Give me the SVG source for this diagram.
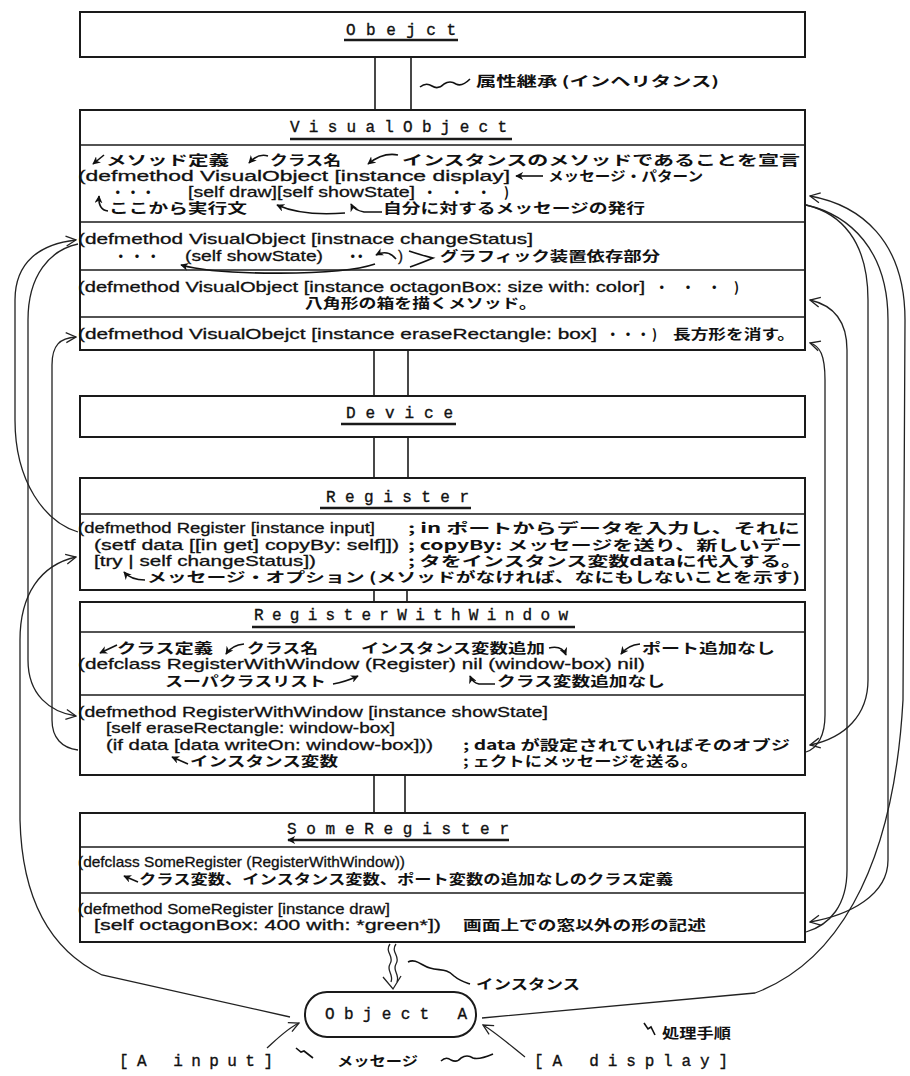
<svg xmlns="http://www.w3.org/2000/svg" width="910" height="1076" viewBox="0 0 910 1076">
<defs>
<style>
.box{fill:#fff;stroke:#1a1a1a;stroke-width:2}
.sep{stroke:#1a1a1a;stroke-width:1.6}
.ul{stroke:#1a1a1a;stroke-width:2.6}
.cn{stroke:#1a1a1a;stroke-width:1.6;fill:none}
.cv{stroke:#222;stroke-width:1.3;fill:none}
.an{stroke:#111;stroke-width:1.6;fill:none}
.code{font-family:"Liberation Sans",Arial,sans-serif;font-size:15px;fill:#111;stroke:#111;stroke-width:0.3}
.jp{font-family:"Noto Sans CJK JP","Noto Sans",sans-serif;font-size:13.5px;font-weight:700;fill:#111}
.ttl{font-family:"Liberation Mono","Courier New",monospace;font-size:16px;fill:#111;stroke:#111;stroke-width:0.35}
</style>
<marker id="ah" viewBox="0 0 12 12" refX="11" refY="6" markerWidth="12" markerHeight="12" orient="auto" markerUnits="userSpaceOnUse"><path d="M1,1 L11,6 L1,11" fill="none" stroke="#222" stroke-width="1.3"/></marker>
<marker id="sa" viewBox="0 0 10 10" refX="9" refY="5" markerWidth="8" markerHeight="8" orient="auto" markerUnits="userSpaceOnUse"><path d="M0,0 L10,5 L0,10 L3,5 z" fill="#111"/></marker>
</defs>
<rect width="910" height="1076" fill="#fff"/>

<g id="connectors">
<line class="cn" x1="375" y1="57" x2="375" y2="110"/><line class="cn" x1="411" y1="57" x2="411" y2="110"/>
<line class="cn" x1="374" y1="350" x2="374" y2="396"/><line class="cn" x1="408" y1="350" x2="408" y2="396"/>
<line class="cn" x1="374" y1="437" x2="374" y2="478"/><line class="cn" x1="408" y1="437" x2="408" y2="478"/>
<line class="cn" x1="374" y1="590" x2="374" y2="602"/><line class="cn" x1="407" y1="590" x2="407" y2="602"/>
<line class="cn" x1="374" y1="775" x2="374" y2="813"/><line class="cn" x1="405" y1="775" x2="405" y2="813"/>
<path class="cv" d="M78 532 C45 522,15 482,15 420 L15 300 C15 262,40 244,76 240" marker-end="url(#ah)"/>
<path class="cv" d="M78 244 C50 250,28 275,28 320 L28 660 C28 695,50 712,76 716" marker-end="url(#ah)"/>
<path class="cv" d="M78 750 C62 748,52 738,52 720 L52 365 C52 345,60 338,76 337" marker-end="url(#ah)"/>
<path class="cv" d="M290 1017 L102 975 C50 950,22 900,20 820 L20 640 C20 595,40 565,76 557" marker-end="url(#ah)"/>
<path class="cv" d="M482 1018 L755 993 C830 965,893 880,903 700 L905 320 C905 240,860 205,810 196" marker-end="url(#ah)"/>
<path class="cv" d="M806 205 C850 215,888 250,888 320 L888 860 C888 895,850 915,810 922" marker-end="url(#ah)"/>
<path class="cv" d="M806 205 C840 213,868 240,868 300 L868 680 C868 715,845 738,810 745" marker-end="url(#ah)"/>
<path class="cv" d="M806 932 C830 925,847 905,847 870 L847 350 C847 320,832 305,810 300" marker-end="url(#ah)"/>
<path class="cv" d="M806 752 C818 748,825 735,825 715 L825 380 C825 355,820 346,810 343" marker-end="url(#ah)"/>
<path class="cv" d="M390 944 c-6 8,5 12,0 20 c-4 7,4 10,1 18"/>
<path class="cv" d="M396 944 c-6 8,5 12,0 20 c-4 7,4 10,1 18"/>
<path class="cv" d="M383 977 L393 989 L401 976"/>
<path class="cv" d="M267 1048 C278 1038,288 1028,299 1023" marker-end="url(#ah)"/>
<path class="cv" d="M525 1057 C510 1045,495 1032,483 1025" marker-end="url(#ah)"/>
</g>

<g id="obejct">
<rect class="box" x="80" y="12" width="725" height="45"/>
<text class="ttl" x="346" y="35" textLength="110" lengthAdjust="spacing">Obejct</text>
<line class="ul" x1="344" y1="40" x2="458" y2="40"/>
</g>
<g id="inherit-label">
<path class="an" d="M420 87 q6 -5 12 -1 q6 4 12 -2 q6 -4 12 0 q6 3 14 -5"/>
<text class="jp" x="476" y="86" textLength="243" lengthAdjust="spacingAndGlyphs">属性継承 (インヘリタンス)</text>
</g>

<g id="visualobject">
<rect class="box" x="80" y="110" width="725" height="240"/>
<text class="ttl" x="290" y="132" textLength="217" lengthAdjust="spacing">VisualObject</text>
<line class="ul" x1="290" y1="139" x2="512" y2="139"/>
<line class="sep" x1="80" y1="145" x2="805" y2="145"/>
<path class="an" d="M104 155 L93 164" marker-end="url(#sa)"/>
<text class="jp" x="106" y="165" textLength="123" lengthAdjust="spacingAndGlyphs">メソッド定義</text>
<path class="an" d="M268 156 Q258 153 249 163" marker-end="url(#sa)"/>
<text class="jp" x="270" y="165" textLength="71" lengthAdjust="spacingAndGlyphs">クラス名</text>
<path class="an" d="M398 155 Q383 152 368 164" marker-end="url(#sa)"/>
<text class="jp" x="402" y="165" textLength="398" lengthAdjust="spacingAndGlyphs">インスタンスのメソッドであることを宣言</text>
<text class="code" x="78" y="181" textLength="432" lengthAdjust="spacingAndGlyphs">(defmethod VisualObject [instance display]</text>
<path class="an" d="M543 176 L516 176" marker-end="url(#sa)"/>
<text class="jp" x="548" y="181" textLength="155" lengthAdjust="spacingAndGlyphs">メッセージ・パターン</text>
<path class="an" d="M108 211 Q98 210 99 196" marker-end="url(#sa)"/>
<text class="jp" x="111" y="197" textLength="44" lengthAdjust="spacing">・・・</text>
<text class="code" x="188" y="197" textLength="227" lengthAdjust="spacingAndGlyphs">[self draw][self showState]</text>
<text class="jp" x="423" y="197" textLength="86" lengthAdjust="spacing">・・・)</text>
<text class="jp" x="109" y="213" textLength="138" lengthAdjust="spacingAndGlyphs">ここから実行文</text>
<path class="an" d="M345 213 C320 215,295 213,277 205" marker-end="url(#sa)"/>
<path class="an" d="M382 212 L364 212 Q354 210 351 204" marker-end="url(#sa)"/>
<text class="jp" x="383" y="213" textLength="262" lengthAdjust="spacingAndGlyphs">自分に対するメッセージの発行</text>
<line class="sep" x1="80" y1="222" x2="805" y2="222"/>
<text class="code" x="78" y="244" textLength="455" lengthAdjust="spacingAndGlyphs">(defmethod VisualObject [instnace changeStatus]</text>
<text class="jp" x="114" y="261" textLength="46" lengthAdjust="spacing">・・・</text>
<text class="code" x="185" y="261" textLength="138" lengthAdjust="spacingAndGlyphs">(self showState)</text>
<text class="jp" x="346" y="261" textLength="21" lengthAdjust="spacing">・・</text>
<path class="an" d="M396 259 Q388 249 376 255" marker-end="url(#sa)"/>
<text class="code" x="398" y="261">)</text>
<path class="an" d="M409 251 Q424 256 433 258 Q424 262 410 267"/>
<path class="an" d="M375 264 C340 276,220 276,181 265" marker-end="url(#sa)"/>
<text class="jp" x="440" y="261" textLength="220" lengthAdjust="spacingAndGlyphs">グラフィック装置依存部分</text>
<line class="sep" x1="80" y1="270" x2="805" y2="270"/>
<text class="code" x="78" y="292" textLength="567" lengthAdjust="spacingAndGlyphs">(defmethod VisualObject [instance  octagonBox: size with: color]</text>
<text class="jp" x="655" y="292" textLength="84" lengthAdjust="spacing">・・・)</text>
<text class="jp" x="305" y="308" textLength="232" lengthAdjust="spacingAndGlyphs">八角形の箱を描くメソッド。</text>
<line class="sep" x1="80" y1="317" x2="805" y2="317"/>
<text class="code" x="78" y="339" textLength="519" lengthAdjust="spacingAndGlyphs">(defmethod VisualObejct [instance eraseRectangle: box]</text>
<text class="jp" x="606" y="339" textLength="51" lengthAdjust="spacing">・・・)</text>
<text class="jp" x="673" y="339" textLength="122" lengthAdjust="spacingAndGlyphs">長方形を消す。</text>
</g>

<g id="device">
<rect class="box" x="80" y="396" width="725" height="41"/>
<text class="ttl" x="346" y="418" textLength="107" lengthAdjust="spacing">Device</text>
<line class="ul" x1="341" y1="424" x2="456" y2="424"/>
</g>

<g id="register">
<rect class="box" x="80" y="478" width="725" height="112"/>
<text class="ttl" x="326" y="502" textLength="143" lengthAdjust="spacing">Register</text>
<line class="ul" x1="320" y1="508" x2="471" y2="508"/>
<line class="sep" x1="80" y1="514" x2="805" y2="514"/>
<text class="code" x="78" y="533" textLength="297" lengthAdjust="spacingAndGlyphs">(defmethod Register [instance input]</text>
<text class="jp" x="408" y="533" textLength="392" lengthAdjust="spacingAndGlyphs">; in ポートからデータを入力し、それに</text>
<text class="code" x="94" y="550" textLength="305" lengthAdjust="spacingAndGlyphs">(setf data [[in get] copyBy: self]])</text>
<text class="jp" x="408" y="550" textLength="394" lengthAdjust="spacingAndGlyphs">; copyBy: メッセージを送り、新しいデー</text>
<text class="code" x="94" y="566" textLength="222" lengthAdjust="spacingAndGlyphs">[try | self changeStatus])</text>
<text class="jp" x="408" y="566" textLength="394" lengthAdjust="spacingAndGlyphs">; タをインスタンス変数dataに代入する。</text>
<path class="an" d="M145 580 Q131 580 124 572" marker-end="url(#sa)"/>
<text class="jp" x="147" y="582" textLength="653" lengthAdjust="spacingAndGlyphs">メッセージ・オプション (メソッドがなければ、なにもしないことを示す)</text>
</g>

<g id="registerwithwindow">
<rect class="box" x="80" y="602" width="725" height="173"/>
<text class="ttl" x="254" y="620" textLength="314" lengthAdjust="spacing">RegisterWithWindow</text>
<line class="ul" x1="252" y1="627" x2="575" y2="627"/>
<line class="sep" x1="80" y1="632" x2="805" y2="632"/>
<path class="an" d="M117 645 L100 653" marker-end="url(#sa)"/>
<text class="jp" x="117" y="653" textLength="96" lengthAdjust="spacingAndGlyphs">クラス定義</text>
<path class="an" d="M244 644 Q232 645 226 654" marker-end="url(#sa)"/>
<text class="jp" x="247" y="653" textLength="71" lengthAdjust="spacingAndGlyphs">クラス名</text>
<text class="jp" x="361" y="653" textLength="184" lengthAdjust="spacingAndGlyphs">インスタンス変数追加</text>
<path class="an" d="M549 648 Q562 645 566 655" marker-end="url(#sa)"/>
<path class="an" d="M640 644 Q628 645 621 654" marker-end="url(#sa)"/>
<text class="jp" x="642" y="653" textLength="133" lengthAdjust="spacingAndGlyphs">ポート追加なし</text>
<text class="code" x="78" y="669" textLength="567" lengthAdjust="spacingAndGlyphs">(defclass RegisterWithWindow (Register) nil (window-box) nil)</text>
<text class="jp" x="165" y="686" textLength="161" lengthAdjust="spacingAndGlyphs">スーパクラスリスト</text>
<path class="an" d="M333 684 Q345 682 358 676" marker-end="url(#sa)"/>
<path class="an" d="M495 684 L479 684 Q473 683 470 676" marker-end="url(#sa)"/>
<text class="jp" x="497" y="686" textLength="168" lengthAdjust="spacingAndGlyphs">クラス変数追加なし</text>
<line class="sep" x1="80" y1="695" x2="805" y2="695"/>
<text class="code" x="78" y="717" textLength="470" lengthAdjust="spacingAndGlyphs">(defmethod RegisterWithWindow [instance showState]</text>
<text class="code" x="106" y="733" textLength="289" lengthAdjust="spacingAndGlyphs">[self eraseRectangle: window-box]</text>
<text class="code" x="106" y="750" textLength="327" lengthAdjust="spacingAndGlyphs">(if data [data writeOn: window-box]))</text>
<text class="jp" x="463" y="750" textLength="327" lengthAdjust="spacingAndGlyphs">; data が設定されていればそのオブジ</text>
<path class="an" d="M188 764 L172 757" marker-end="url(#sa)"/>
<text class="jp" x="190" y="766" textLength="148" lengthAdjust="spacingAndGlyphs">インスタンス変数</text>
<text class="jp" x="463" y="766" textLength="235" lengthAdjust="spacingAndGlyphs">; ェクトにメッセージを送る。</text>
</g>

<g id="someregister">
<rect class="box" x="80" y="813" width="725" height="129"/>
<text class="ttl" x="287" y="834" textLength="222" lengthAdjust="spacing">SomeRegister</text>
<line class="ul" x1="509" y1="840" x2="288" y2="840" marker-end="url(#sa)"/>
<line class="sep" x1="80" y1="847" x2="805" y2="847"/>
<text class="code" x="78" y="867" textLength="327" lengthAdjust="spacingAndGlyphs">(defclass SomeRegister (RegisterWithWindow))</text>
<path class="an" d="M138 882 L124 876" marker-end="url(#sa)"/>
<text class="jp" x="139" y="884" textLength="534" lengthAdjust="spacingAndGlyphs">クラス変数、インスタンス変数、ポート変数の追加なしのクラス定義</text>
<line class="sep" x1="80" y1="893" x2="805" y2="893"/>
<text class="code" x="78" y="914" textLength="312" lengthAdjust="spacingAndGlyphs">(defmethod SomeRegister [instance draw]</text>
<text class="code" x="94" y="930" textLength="347" lengthAdjust="spacingAndGlyphs">[self octagonBox: 400 with: *green*])</text>
<text class="jp" x="463" y="930" textLength="243" lengthAdjust="spacingAndGlyphs">画面上での窓以外の形の記述</text>
</g>

<g id="instance-label">
<path class="an" d="M408 962 c8 -4,14 4,22 6 c10 3,16 0,24 8 c6 5,10 6,16 8"/>
<text class="jp" x="476" y="989" textLength="104" lengthAdjust="spacingAndGlyphs">インスタンス</text>
</g>

<g id="objecta">
<rect class="box" x="305" y="992" width="171" height="45" rx="22"/>
<text class="ttl" x="325" y="1019" textLength="142" lengthAdjust="spacing">Object A</text>
</g>

<g id="labels">
<path class="an" d="M644 1023 l4 6 l3 -2 l4 8"/>
<text class="jp" x="662" y="1038" textLength="69" lengthAdjust="spacingAndGlyphs">処理手順</text>
<text class="ttl" x="119" y="1066" textLength="154" lengthAdjust="spacing">[A input]</text>
<path class="an" d="M296 1048 l5 4 l3 -1 l9 7"/>
<text class="jp" x="337" y="1066" textLength="81" lengthAdjust="spacingAndGlyphs">メッセージ</text>
<path class="an" d="M441 1061 q5 -5 10 -1 q6 3 10 -2 q6 -4 12 0 q6 2 20 -4"/>
<text class="ttl" x="534" y="1066" textLength="194" lengthAdjust="spacing">[A display]</text>
</g>
</svg>
